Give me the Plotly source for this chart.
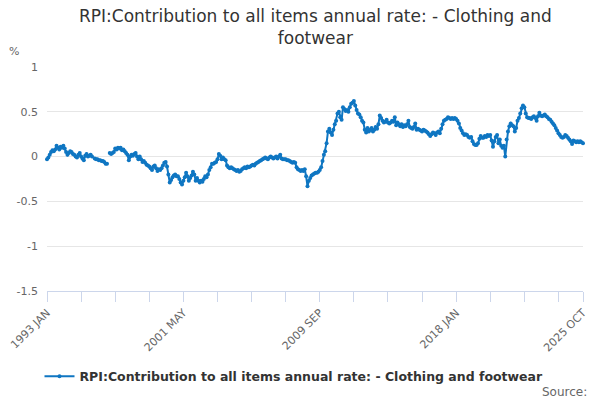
import pandas as pd
import plotly.graph_objects as go

# monthly series, 1993 JAN .. 2025 OCT (None = no value published)
months = [d.strftime("%Y %b").upper() for d in pd.date_range("1993-01-01", "2025-10-01", freq="MS")]
values = [
    -0.03, -0.01, 0.02, 0.05, 0.07, 0.06, 0.08, 0.12, 0.10, 0.08, 0.11, 0.10,      # 1993
    0.12, 0.09, 0.05, 0.02, 0.04, 0.06, 0.05, 0.03, 0.02, 0.00, -0.01, 0.02,       # 1994
    0.04, 0.00, -0.02, -0.04, 0.01, 0.03, 0.00, 0.01, 0.02, 0.00, None, -0.02,     # 1995
    -0.03, -0.03, -0.04, -0.04, -0.05, -0.05, -0.06, -0.08, -0.08, None, 0.04, 0.03,  # 1996
    0.04, 0.05, 0.09, 0.08, 0.10, 0.09, 0.10, 0.07, 0.08, 0.06, 0.04, 0.02,        # 1997
    -0.04, 0.00, 0.02, 0.01, 0.03, 0.04, 0.00, -0.03, 0.00, -0.03, -0.06, -0.05,   # 1998
    -0.07, -0.09, -0.10, -0.11, -0.13, -0.15, -0.11, -0.10, -0.13, -0.16, -0.14, -0.15,  # 1999
    -0.13, -0.10, -0.07, -0.06, -0.11, -0.20, -0.29, -0.26, -0.23, -0.21, -0.20, -0.22,  # 2000
    -0.22, -0.25, -0.29, -0.31, -0.27, -0.23, -0.18, -0.22, -0.27, -0.24, -0.21, -0.17,  # 2001
    -0.20, -0.27, -0.24, -0.27, -0.29, -0.27, -0.28, -0.25, -0.22, -0.23, -0.20, -0.15,  # 2002
    -0.12, -0.08, -0.08, -0.07, -0.06, -0.03, 0.03, 0.01, -0.03, -0.01, -0.03, -0.04,    # 2003
    -0.10, -0.12, -0.13, -0.12, -0.13, -0.14, -0.15, -0.16, -0.15, -0.17, -0.16, -0.14,  # 2004
    -0.13, -0.12, -0.13, -0.11, -0.12, -0.11, -0.10, -0.09, -0.10, -0.08, -0.07, -0.06,  # 2005
    -0.05, -0.04, -0.03, -0.02, -0.01, -0.02, -0.03, -0.01, 0.00, -0.01, -0.02, -0.01,   # 2006
    0.00, -0.02, 0.00, 0.02, -0.02, -0.03, -0.03, -0.03, -0.04, -0.04, -0.05, -0.06,     # 2007
    -0.07, -0.06, -0.07, -0.12, -0.14, -0.15, -0.16, -0.15, -0.16, -0.14, -0.22, -0.33,  # 2008
    -0.27, -0.24, -0.21, -0.20, -0.19, -0.18, -0.18, -0.17, -0.15, -0.12, -0.05, 0.02,   # 2009
    0.06, 0.15, 0.28, 0.31, 0.27, 0.24, 0.30, 0.36, 0.40, 0.48, 0.50, 0.44,        # 2010
    0.41, 0.55, 0.53, 0.51, 0.52, 0.50, 0.55, 0.59, 0.60, 0.62, 0.57, 0.52,        # 2011
    0.48, 0.47, 0.44, 0.40, 0.38, 0.30, 0.27, 0.32, 0.28, 0.30, 0.32, 0.28,        # 2012
    0.30, 0.33, 0.31, 0.36, 0.46, 0.43, 0.40, 0.38, 0.39, 0.41, 0.38, 0.37,        # 2013
    0.38, 0.40, 0.39, 0.44, 0.35, 0.38, 0.36, 0.34, 0.36, 0.33, 0.35, 0.34,        # 2014
    0.36, 0.40, 0.33, 0.32, 0.31, 0.33, 0.37, 0.30, 0.31, 0.30, 0.29, 0.28,        # 2015
    0.30, 0.29, 0.28, 0.27, 0.25, 0.23, 0.25, 0.27, 0.26, 0.24, 0.27, 0.28,        # 2016
    0.26, 0.31, 0.36, 0.40, 0.41, 0.42, 0.44, 0.43, 0.42, 0.43, 0.42, 0.43,        # 2017
    0.42, 0.40, 0.37, 0.32, 0.29, 0.26, 0.24, 0.25, 0.24, 0.22, 0.21, 0.22,        # 2018
    0.17, 0.14, 0.13, 0.13, 0.15, 0.20, 0.23, 0.21, 0.21, 0.23, 0.22, 0.24,        # 2019
    0.23, 0.24, 0.18, 0.11, 0.17, 0.22, 0.24, 0.15, 0.19, 0.12, 0.10, 0.12,        # 2020
    0.00, 0.19, 0.28, 0.34, 0.37, 0.35, 0.34, 0.28, 0.32, 0.40, 0.43, 0.48,        # 2021
    0.54, 0.57, 0.55, 0.48, 0.44, 0.43, 0.43, 0.42, 0.44, 0.45, 0.43, 0.40,        # 2022
    0.45, 0.49, 0.46, 0.45, 0.46, 0.47, 0.45, 0.44, 0.42, 0.41, 0.39, 0.37,        # 2023
    0.35, 0.32, 0.29, 0.26, 0.24, 0.22, 0.21, 0.22, 0.24, 0.23, 0.21, 0.19,        # 2024
    0.17, 0.14, 0.18, 0.17, 0.16, 0.17, 0.16, 0.17, 0.16, 0.15,                    # 2025
]
series_name = "RPI:Contribution to all items annual rate: - Clothing and footwear"
labelled = ["1993 JAN", "2001 MAY", "2009 SEP", "2018 JAN", "2025 OCT"]

tick_vals = months[::25] + [months[-1]]
tick_text = [m if m in labelled else "" for m in tick_vals]

blue = "#0f76c2"
font = "DejaVu Sans"

fig = go.Figure()
fig.add_trace(go.Scatter(x=months, y=values, name=series_name, mode="lines+markers",
                         line=dict(color=blue, width=2), marker=dict(color=blue, size=4),
                         cliponaxis=False))

fig.update_layout(
    width=600, height=400,
    margin=dict(l=47, r=17, t=67, b=109, autoexpand=False),
    paper_bgcolor="white", plot_bgcolor="white",
    font=dict(family=font, color="#666666", size=11),
    showlegend=True,
    legend=dict(orientation="h", x=-0.014, xanchor="left", y=-0.315, yanchor="top",
                font=dict(family=font, size=12.5, color="#333333", weight="bold"),
                itemwidth=30),
)
fig.update_xaxes(type="category", range=[0, len(months) - 1], automargin=False,
                 tickmode="array", tickvals=tick_vals, ticktext=tick_text, tickangle=-45,
                 ticks="outside", ticklen=10, tickcolor="#ccd6eb",
                 showline=True, linecolor="#ccd6eb", linewidth=1,
                 showgrid=False, zeroline=False)
fig.update_yaxes(range=[-1.5, 1], automargin=False,
                 tickvals=[-1.5, -1, -0.5, 0, 0.5, 1],
                 ticktext=["-1.5", "-1", "-0.5", "0", "0.5", "1"],
                 showgrid=True, gridcolor="#e6e6e6", zeroline=False, ticks="", ticklabelstandoff=8)

# two-line title, placed as an annotation
fig.add_annotation(text="RPI:Contribution to all items annual rate: - Clothing and<br>footwear",
                   xref="paper", yref="paper", x=0.5, y=1.178, xanchor="center", yanchor="middle",
                   showarrow=False, font=dict(family=font, size=17, color="#333333"))
fig.add_annotation(text="%", xref="paper", yref="paper", x=-0.062, y=1.067,
                   xanchor="center", yanchor="middle", showarrow=False,
                   font=dict(family=font, size=11, color="#666666"))
fig.add_annotation(text="Source:", xref="paper", x=1.0, xanchor="right",
                   yref="paper", y=-0.41, yanchor="top", xshift=6, showarrow=False,
                   font=dict(family=font, size=12, color="#666666"))

# drop the browser's default page margin so the 600x400 figure fills the window
fig.write_html("out.html", config={"displayModeBar": False},
               post_script="document.body.style.margin='0';")
